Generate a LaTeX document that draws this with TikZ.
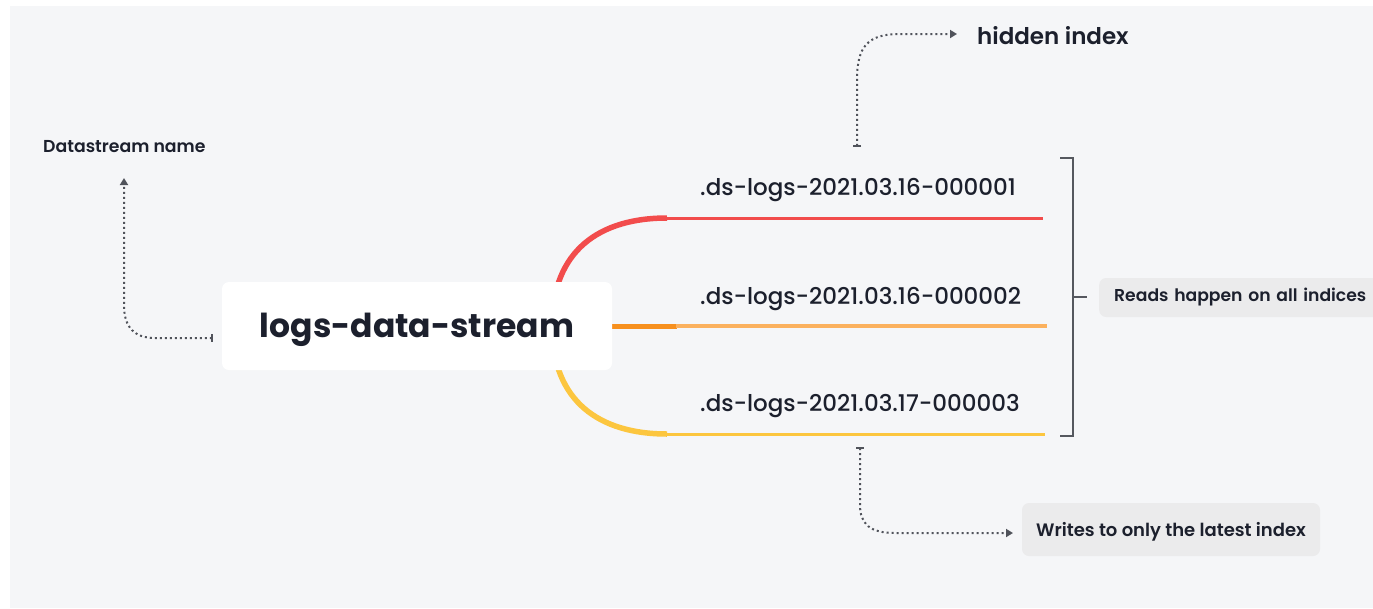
\documentclass[tikz,border=0pt]{standalone}
\usepackage{fontspec}
\setmainfont{Poppins}
\newfontfamily\pmed{Poppins Medium}
\newfontfamily\psemi{Poppins SemiBold}
\newfontfamily\pbold{Poppins Bold}
\usetikzlibrary{arrows.meta}
\definecolor{bgc}{HTML}{F5F6F8}
\definecolor{txt}{HTML}{1C202D}
\definecolor{arrg}{HTML}{50535B}
\definecolor{brk}{HTML}{55585F}
\definecolor{boxg}{HTML}{EBEBEC}
\definecolor{redl}{HTML}{F24C4C}
\definecolor{orad}{HTML}{F7901E}
\definecolor{oral}{HTML}{FBB15E}
\definecolor{yell}{HTML}{FCC63F}
\tikzset{
  dotarrow/.style={draw=arrg, line width=2pt, dash pattern=on 2pt off 3pt,
    {Bar[width=8pt,line width=1.6pt]}-{Triangle[width=8pt,length=7pt]}},
  idxlabel/.style={anchor=west, inner sep=0pt, text=txt, font=\pmed\fontsize{23}{27}\selectfont},
  graybox/.style={fill=boxg, rounded corners=7pt, text=txt, inner sep=0pt},
}
\begin{document}
\begin{tikzpicture}[x=1pt,y=-1pt]
\useasboundingbox (0,0) rectangle (1373,608);
\fill[white] (0,0) rectangle (1373,608);
\fill[bgc] (10,6) rectangle (1373,608);

% branch lines
\draw[redl, line width=5.5pt] (552,326) .. controls (552,250) and (600,218) .. (667,218);
\draw[redl, line width=3pt] (665,218) -- (1043,218);
\draw[orad, line width=5pt] (600,326) -- (677,326);
\draw[oral, line width=3.5pt] (676,326) -- (1047,326);
\draw[yell, line width=5.5pt] (552,326) .. controls (552,402) and (600,434) .. (667,434);
\draw[yell, line width=3pt] (665,434) -- (1045,434);

% main node
\node[fill=white, rounded corners=7pt, minimum width=390pt, minimum height=88pt, inner sep=0pt] (main) at (417,326) {};
\node[inner sep=0pt, text=txt, font=\pbold\fontsize{33}{38}\selectfont] (mainlabel) at (417,330) {logs-data-stream};

% index labels
\node[idxlabel] (i1) at (700,190) {.ds-logs-2021.03.16-000001};
\node[idxlabel] (i2) at (700,299) {.ds-logs-2021.03.16-000002};
\node[idxlabel] (i3) at (700,406) {.ds-logs-2021.03.17-000003};

% side labels
\node[anchor=west, inner sep=0pt, text=txt, font=\psemi\fontsize{17.3}{20}\selectfont] (dsn) at (43,147) {Datastream name};
\node[anchor=west, inner sep=0pt, text=txt, font=\psemi\fontsize{23}{27}\selectfont] (hid) at (977,36) {hidden index};
\node[graybox, anchor=west, minimum height=39pt, text width=300pt, inner xsep=15pt, align=left,
  font=\psemi\fontsize{17.2}{20}\selectfont] (reads) at (1099,297.5) {Reads happen on all indices};
\node[graybox, minimum width=298pt, minimum height=53pt] (writes) at (1171,529.5) {};
\node[inner sep=0pt, text=txt, font=\psemi\fontsize{18}{21}\selectfont] (writeslabel) at (1171,532) {Writes to only the latest index};

% bracket
\coordinate (bt) at (1073,158);
\coordinate (bb) at (1073,436);
\coordinate (bm) at (1073,297);
\draw[brk, line width=1.8pt] ([xshift=-13pt]bt) -- (bt) -- (bb) -- ([xshift=-13pt]bb);
\draw[brk, line width=1.8pt] (bm) -- ([xshift=14pt]bm);

% dotted connectors
\coordinate (s1) at (213,338);
\coordinate (e1) at (124,178);
\draw[dotarrow] (s1) -- (155,338) .. controls (135,338) and (124,328) .. (124,305) -- (e1);
\coordinate (s2) at (857,147);
\coordinate (e2) at (957,34);
\draw[dotarrow] (s2) -- (857,80) .. controls (857,46) and (868,34) .. (900,34) -- (e2);
\coordinate (s3) at (860,447);
\coordinate (e3) at (1013,533);
\draw[dotarrow] (s3) -- (860,505) .. controls (860,524) and (870,533) .. (895,533) -- (e3);
\end{tikzpicture}
\end{document}
